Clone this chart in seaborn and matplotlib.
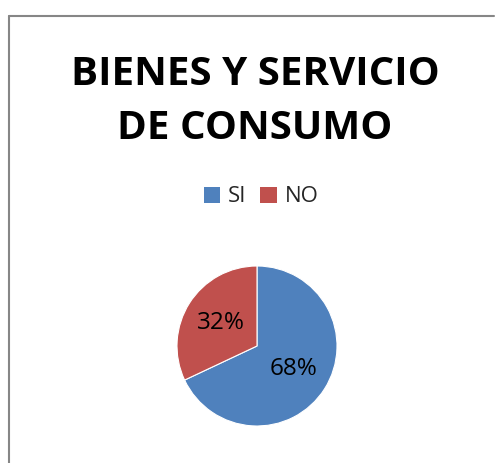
import matplotlib
matplotlib.use("Agg")
import matplotlib.pyplot as plt
import seaborn as sns
from matplotlib.lines import Line2D
from matplotlib.patches import Patch

categories = ["SI", "NO"]
values = [68, 32]
colors = ["#4F81BD", "#C0504D"]
title = "BIENES Y SERVICIO\nDE CONSUMO"

sns.set_theme(style="white")
plt.rcParams['font.family'] = ['Open Sans', 'DejaVu Sans']

W, H = 495, 463
fig = plt.figure(figsize=(W / 100, H / 100), dpi=100)
fig.patch.set_facecolor("white")

# chart border (left and top visible)
fig.add_artist(Line2D([8.5 / W, 8.5 / W], [0, 1 - 16 / H], transform=fig.transFigure,
                      color="#868686", lw=1.5))
fig.add_artist(Line2D([8.5 / W, 494 / W], [1 - 16 / H, 1 - 16 / H], transform=fig.transFigure,
                      color="#868686", lw=1.5))

# title
fig.text(255 / W, 1 - 101 / H, title, ha="center", va="center", fontsize=29,
         fontweight="bold", linespacing=1.5, color="black")

# pie
cx, cy, r = 257, 346, 80
ax = fig.add_axes([(cx - r) / W, (H - cy - r) / H, 2 * r / W, 2 * r / H])
wedges, texts, autotexts = ax.pie(values, colors=colors, startangle=90, counterclock=False,
                                  autopct="%1.0f%%", pctdistance=0.54,
                                  wedgeprops=dict(linewidth=0.8, edgecolor="white"),
                                  textprops=dict(fontsize=17.5, color="black"))
ax.set_xlim(-1, 1)
ax.set_ylim(-1, 1)
ax.set_aspect("equal")

# legend
handles = [Patch(facecolor=c, edgecolor="none") for c in colors]
fig.legend(handles, categories, loc="center", bbox_to_anchor=(261 / W, 1 - 197 / H),
           ncol=2, frameon=False, fontsize=16, handlelength=0.75, handleheight=0.75,
           handletextpad=0.35, columnspacing=0.6)

fig.savefig("out.png", dpi=100)
